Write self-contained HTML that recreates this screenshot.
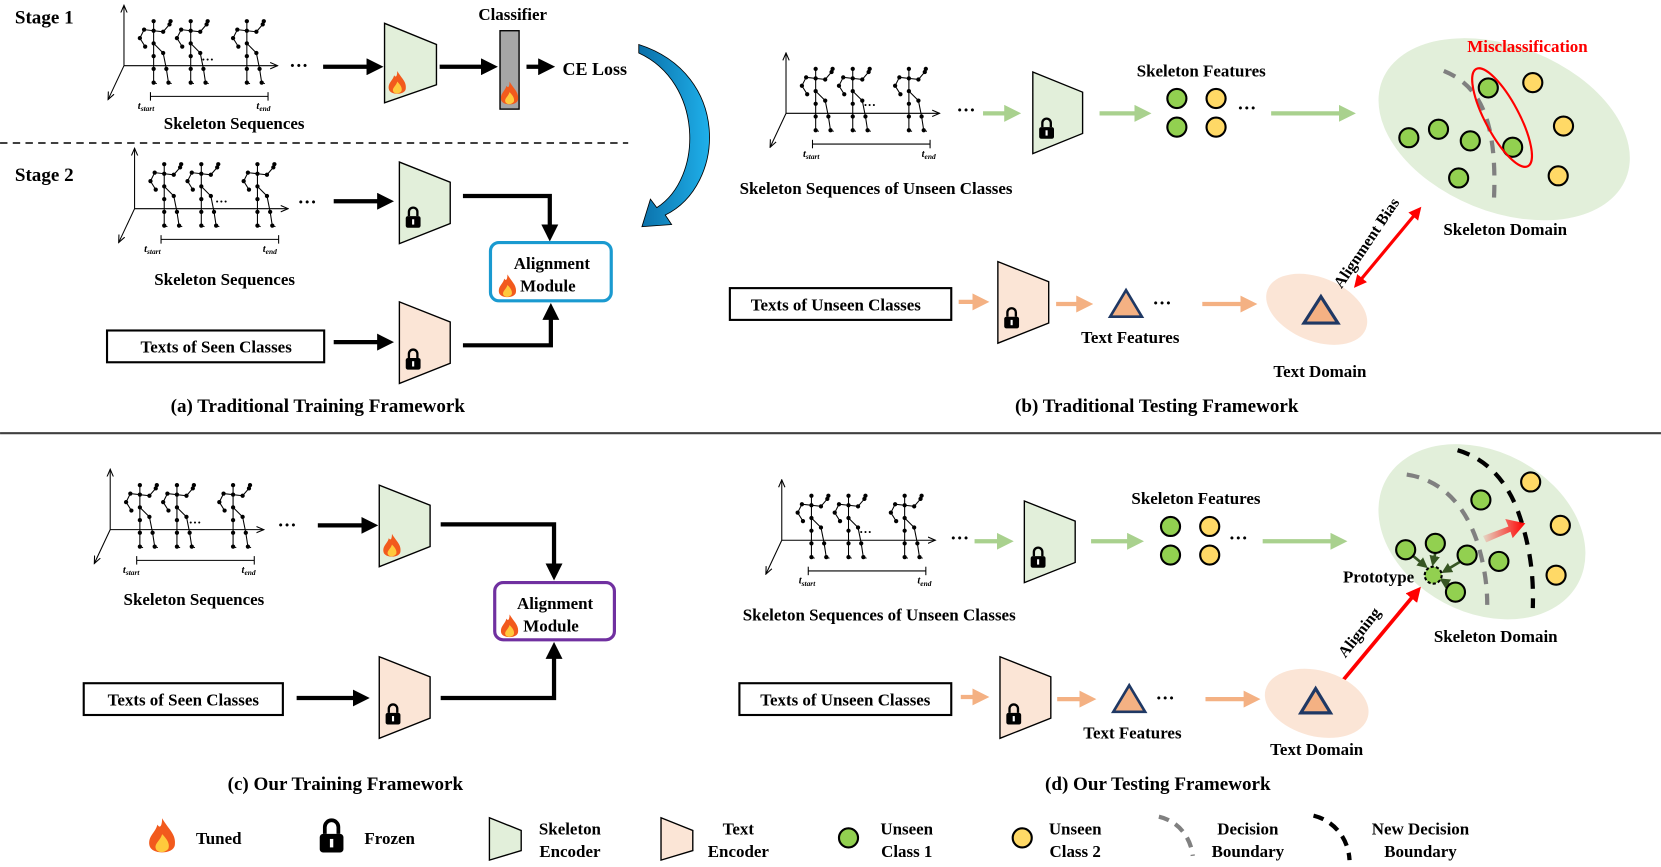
<!DOCTYPE html>
<html><head><meta charset="utf-8"><style>
html,body{margin:0;padding:0;background:#fff;}
svg{display:block;}
text{font-family:"Liberation Serif",serif;font-weight:bold;fill:#000;}
</style></head><body>
<svg width="1661" height="867" viewBox="0 0 1568 818.5" xmlns="http://www.w3.org/2000/svg">
<defs>
<marker id="ab" markerWidth="4" markerHeight="4" refX="2.5" refY="2" orient="auto"><path d="M0,0 L4,2 L0,4 Z" fill="#000"/></marker>
<marker id="ag" markerWidth="4" markerHeight="4" refX="2.5" refY="2" orient="auto"><path d="M0,0 L4,2 L0,4 Z" fill="#a9d18e"/></marker>
<marker id="ao" markerWidth="4" markerHeight="4" refX="2.5" refY="2" orient="auto"><path d="M0,0 L4,2 L0,4 Z" fill="#f4b183"/></marker>
<marker id="ar" markerWidth="4" markerHeight="4" refX="2.5" refY="2" orient="auto"><path d="M0,0 L4,2 L0,4 Z" fill="#ff0000"/></marker>
<marker id="ar2" markerWidth="4" markerHeight="4" refX="1.5" refY="2" orient="auto-start-reverse"><path d="M0,0 L4,2 L0,4 Z" fill="#ff0000"/></marker>
<marker id="adg" markerWidth="4" markerHeight="4" refX="2.5" refY="2" orient="auto"><path d="M0,0 L4,2 L0,4 Z" fill="#375623"/></marker>
<marker id="sa" markerWidth="8" markerHeight="8" refX="7" refY="4" orient="auto" markerUnits="userSpaceOnUse"><path d="M0,1 L7,4 L0,7" fill="none" stroke="#000" stroke-width="1"/></marker>
<linearGradient id="gr" x1="0" x2="1"><stop offset="0" stop-color="#ff0000" stop-opacity="0.1"/><stop offset="1" stop-color="#ff0000"/></linearGradient>
<linearGradient id="bl" x1="0" x2="1"><stop offset="0" stop-color="#0a6fa8"/><stop offset="1" stop-color="#1fb0ea"/></linearGradient>
<g id="fig" stroke="#000" stroke-width="1" fill="none">
<path d="M0,-9 L0,0 L-9,-1 L-13,7 L-8,15 M0,0 L9,1 L15,-6 L16,-9 M0,0 L0,12 L0,24 L0,36 L0,49 L3,50 M0,12 L9,21 L12,36 L14,49 L17,50"/>
<g fill="#000" stroke="none"><circle cx="0" cy="-9" r="2"/><circle cx="0" cy="0" r="2"/><circle cx="-9" cy="-1" r="2"/><circle cx="-13" cy="7" r="2"/><circle cx="-8" cy="15" r="2"/><circle cx="9" cy="1" r="2"/><circle cx="15" cy="-6" r="2"/><circle cx="16" cy="-9" r="2"/><circle cx="0" cy="12" r="2"/><circle cx="0" cy="24" r="2"/><circle cx="0" cy="36" r="2"/><circle cx="0" cy="49" r="2"/><circle cx="9" cy="21" r="2"/><circle cx="12" cy="36" r="2"/><circle cx="14" cy="49" r="2"/></g>
</g>
<g id="seq">
<line x1="0" y1="0" x2="0" y2="-57" stroke="#000" marker-end="url(#sa)"/>
<line x1="0" y1="0" x2="145" y2="0" stroke="#000" marker-end="url(#sa)"/>
<line x1="0" y1="0" x2="-15" y2="32" stroke="#000" marker-end="url(#sa)"/>
<use href="#fig" x="28" y="-33"/><use href="#fig" x="63" y="-33"/><use href="#fig" x="116" y="-33"/>
<line x1="25" y1="29" x2="136" y2="29" stroke="#000"/><line x1="25" y1="25" x2="25" y2="33" stroke="#000"/><line x1="136" y1="25" x2="136" y2="33" stroke="#000"/>
</g>
<g id="flame"><path d="M0,-13 C4,-6 9,-3 8,4 C7,10 -7,10 -8,4 C-9,-2 -4,-4 -3,-9 C-1,-6 0,-9 0,-13 Z" fill="#f25a1d"/><path d="M0,-3 C3,0 5,3 4,6 C2,9 -3,9 -4,6 C-5,3 -1,1 0,-3 Z" fill="#ffc93c"/></g>
<g id="lock"><path d="M-4,-3 L-4,-7 A4,4 0 0 1 4,-7 L4,-3" fill="none" stroke="#000" stroke-width="2.2"/><rect x="-7" y="-3" width="14" height="11" rx="2" fill="#000"/><rect x="-1" y="0" width="2" height="5" fill="#fff"/></g>
</defs>

<!-- Panel a -->
<text x="14" y="22" font-size="18">Stage 1</text>
<use href="#seq" x="117" y="62"/>
<text font-size="10" font-style="italic" font-weight="normal" x="130" y="103">t<tspan font-size="7" dy="2">start</tspan></text>
<text font-size="10" font-style="italic" font-weight="normal" x="242" y="103">t<tspan font-size="7" dy="2">end</tspan></text>
<text x="190" y="60" font-size="12" font-weight="normal">···</text>
<text x="273" y="68" font-size="18">···</text>
<line x1="305" y1="63" x2="356" y2="63" stroke="#000" stroke-width="4" marker-end="url(#ab)"/>
<path d="M363,22 L412,42 L412,80 L363,97 Z" fill="#e2efda" stroke="#000" stroke-width="1.3"/>
<use href="#flame" x="375" y="80"/>
<line x1="415" y1="63" x2="464" y2="63" stroke="#000" stroke-width="4" marker-end="url(#ab)"/>
<rect x="472" y="29" width="18" height="74" fill="#a6a6a6" stroke="#000" stroke-width="1.3"/>
<use href="#flame" x="481" y="90"/>
<text x="484" y="19" font-size="16" text-anchor="middle">Classifier</text>
<line x1="497" y1="63" x2="518" y2="63" stroke="#000" stroke-width="4" marker-end="url(#ab)"/>
<text x="531" y="71" font-size="17">CE Loss</text>
<text x="221" y="122" font-size="16" text-anchor="middle">Skeleton Sequences</text>
<line x1="0" y1="135" x2="593" y2="135" stroke="#000" stroke-width="1.5" stroke-dasharray="7,5"/>
<path d="M603,42 C690,70 685,175 628,203 L634,212 L606,214 L614,188 L620,196 C664,168 664,78 603,50 Z" fill="url(#bl)" stroke="#000" stroke-width="0.8"/>
<text x="14" y="171" font-size="18">Stage 2</text>
<use href="#seq" x="127" y="197"/>
<text font-size="10" font-style="italic" font-weight="normal" x="136" y="238">t<tspan font-size="7" dy="2">start</tspan></text>
<text font-size="10" font-style="italic" font-weight="normal" x="248" y="238">t<tspan font-size="7" dy="2">end</tspan></text>
<text x="203" y="194" font-size="12" font-weight="normal">···</text>
<text x="281" y="197" font-size="18">···</text>
<line x1="315" y1="190" x2="366" y2="190" stroke="#000" stroke-width="4" marker-end="url(#ab)"/>
<path d="M377,153 L425,172 L425,211 L377,230 Z" fill="#e2efda" stroke="#000" stroke-width="1.3"/>
<use href="#lock" x="390" y="207"/>
<path d="M437,185 L519,185 L519,222" fill="none" stroke="#000" stroke-width="4" marker-end="url(#ab)"/>
<rect x="463" y="229" width="114" height="55" rx="8" fill="#fff" stroke="#1a9ad0" stroke-width="3"/>
<text x="521" y="254" font-size="16" text-anchor="middle">Alignment</text>
<use href="#flame" x="479" y="272"/>
<text x="491" y="275" font-size="16">Module</text>
<text x="212" y="269" font-size="16" text-anchor="middle">Skeleton Sequences</text>
<rect x="101" y="312" width="205" height="30" fill="#fff" stroke="#000" stroke-width="2"/>
<text x="204" y="333" font-size="16" text-anchor="middle">Texts of Seen Classes</text>
<line x1="315" y1="323" x2="366" y2="323" stroke="#000" stroke-width="4" marker-end="url(#ab)"/>
<path d="M377,285 L425,304 L425,343 L377,362 Z" fill="#fbe5d6" stroke="#000" stroke-width="1.3"/>
<use href="#lock" x="390" y="341"/>
<path d="M437,326 L520,326 L520,292" fill="none" stroke="#000" stroke-width="4" marker-end="url(#ab)"/>
<text x="300" y="389" font-size="18" text-anchor="middle">(a) Traditional Training Framework</text>

<!-- Panel b -->
<use href="#seq" x="742" y="107"/>
<text font-size="10" font-style="italic" font-weight="normal" x="758" y="148">t<tspan font-size="7" dy="2">start</tspan></text>
<text font-size="10" font-style="italic" font-weight="normal" x="870" y="148">t<tspan font-size="7" dy="2">end</tspan></text>
<text x="815" y="103" font-size="12" font-weight="normal">···</text>
<text x="903" y="110" font-size="18">···</text>
<line x1="928" y1="107" x2="958" y2="107" stroke="#a9d18e" stroke-width="4" marker-end="url(#ag)"/>
<path d="M975,68 L1022,87 L1022,126 L975,145 Z" fill="#e2efda" stroke="#000" stroke-width="1.3"/>
<use href="#lock" x="988" y="123"/>
<line x1="1038" y1="107" x2="1081" y2="107" stroke="#a9d18e" stroke-width="4" marker-end="url(#ag)"/>
<text x="1134" y="72" font-size="16" text-anchor="middle">Skeleton Features</text>
<g stroke="#000" stroke-width="2"><circle cx="1111" cy="93" r="9" fill="#92d050"/><circle cx="1111" cy="120" r="9" fill="#92d050"/><circle cx="1148" cy="93" r="9" fill="#ffd966"/><circle cx="1148" cy="120" r="9" fill="#ffd966"/></g>
<text x="1168" y="108" font-size="18">···</text>
<line x1="1200" y1="107" x2="1274" y2="107" stroke="#a9d18e" stroke-width="4" marker-end="url(#ag)"/>
<ellipse cx="1420" cy="122" rx="124" ry="78" transform="rotate(22 1420 122)" fill="#e2efda"/>
<path d="M1363,67 C1395,80 1415,110 1410,195" fill="none" stroke="#808080" stroke-width="4" stroke-dasharray="12,9"/>
<g stroke="#000" stroke-width="2" fill="#92d050"><circle cx="1405" cy="83" r="9"/><circle cx="1330" cy="130" r="9"/><circle cx="1358" cy="122" r="9"/><circle cx="1388" cy="133" r="9"/><circle cx="1428" cy="139" r="9"/><circle cx="1377" cy="168" r="9"/></g>
<g stroke="#000" stroke-width="2" fill="#ffd966"><circle cx="1447" cy="78" r="9"/><circle cx="1476" cy="119" r="9"/><circle cx="1471" cy="166" r="9"/></g>
<ellipse cx="1418" cy="111" rx="16" ry="52" transform="rotate(-28 1418 111)" fill="none" stroke="#ff0000" stroke-width="2"/>
<text x="1442" y="49" font-size="16" text-anchor="middle" style="fill:#ff0000">Misclassification</text>
<text x="1421" y="222" font-size="16" text-anchor="middle">Skeleton Domain</text>
<ellipse cx="1243" cy="292" rx="50" ry="30" transform="rotate(22 1243 292)" fill="#fbe5d6"/>
<path d="M1247,280 L1263,305 L1231,305 Z" fill="#f4b183" stroke="#1f3864" stroke-width="3"/>
<line x1="1283" y1="266" x2="1337" y2="201" stroke="#ff0000" stroke-width="3" marker-start="url(#ar2)" marker-end="url(#ar2)"/>
<text x="1294" y="232" font-size="15" text-anchor="middle" transform="rotate(-56 1294 232)">Alignment Bias</text>
<text x="1246" y="356" font-size="16" text-anchor="middle">Text Domain</text>
<rect x="689" y="272" width="209" height="30" fill="#fff" stroke="#000" stroke-width="2"/>
<text x="789" y="293" font-size="16" text-anchor="middle">Texts of Unseen Classes</text>
<line x1="905" y1="285" x2="928" y2="285" stroke="#f4b183" stroke-width="4" marker-end="url(#ao)"/>
<path d="M942,247 L990,266 L990,305 L942,324 Z" fill="#fbe5d6" stroke="#000" stroke-width="1.3"/>
<use href="#lock" x="955" y="302"/>
<line x1="997" y1="287" x2="1026" y2="287" stroke="#f4b183" stroke-width="4" marker-end="url(#ao)"/>
<path d="M1063,274 L1078,299 L1048,299 Z" fill="#f4b183" stroke="#1f3864" stroke-width="2.5"/>
<text x="1088" y="292" font-size="18">···</text>
<text x="1067" y="324" font-size="16" text-anchor="middle">Text Features</text>
<line x1="1135" y1="287" x2="1181" y2="287" stroke="#f4b183" stroke-width="4" marker-end="url(#ao)"/>
<text x="827" y="183" font-size="16" text-anchor="middle">Skeleton Sequences of Unseen Classes</text>
<text x="1092" y="389" font-size="18" text-anchor="middle">(b) Traditional Testing Framework</text>

<line x1="0" y1="409" x2="1568" y2="409" stroke="#404040" stroke-width="2"/>

<!-- Panel c -->
<use href="#seq" x="104" y="500"/>
<text font-size="10" font-style="italic" font-weight="normal" x="116" y="541">t<tspan font-size="7" dy="2">start</tspan></text>
<text font-size="10" font-style="italic" font-weight="normal" x="228" y="541">t<tspan font-size="7" dy="2">end</tspan></text>
<text x="178" y="497" font-size="12" font-weight="normal">···</text>
<text x="262" y="502" font-size="18">···</text>
<line x1="300" y1="496" x2="351" y2="496" stroke="#000" stroke-width="4" marker-end="url(#ab)"/>
<path d="M358,458 L406,477 L406,516 L358,535 Z" fill="#e2efda" stroke="#000" stroke-width="1.3"/>
<use href="#flame" x="370" y="517"/>
<path d="M416,495 L523,495 L523,542" fill="none" stroke="#000" stroke-width="4" marker-end="url(#ab)"/>
<rect x="467" y="550" width="113" height="54" rx="8" fill="#fff" stroke="#7030a0" stroke-width="3"/>
<text x="524" y="575" font-size="16" text-anchor="middle">Alignment</text>
<use href="#flame" x="481" y="593"/>
<text x="494" y="596" font-size="16">Module</text>
<text x="183" y="571" font-size="16" text-anchor="middle">Skeleton Sequences</text>
<rect x="79" y="645" width="188" height="30" fill="#fff" stroke="#000" stroke-width="2"/>
<text x="173" y="666" font-size="16" text-anchor="middle">Texts of Seen Classes</text>
<line x1="280" y1="659" x2="343" y2="659" stroke="#000" stroke-width="4" marker-end="url(#ab)"/>
<path d="M358,620 L406,639 L406,678 L358,697 Z" fill="#fbe5d6" stroke="#000" stroke-width="1.3"/>
<use href="#lock" x="371" y="676"/>
<path d="M416,659 L523,659 L523,612" fill="none" stroke="#000" stroke-width="4" marker-end="url(#ab)"/>
<text x="326" y="746" font-size="18" text-anchor="middle">(c) Our Training Framework</text>

<!-- Panel d -->
<use href="#seq" x="738" y="510"/>
<text font-size="10" font-style="italic" font-weight="normal" x="754" y="551">t<tspan font-size="7" dy="2">start</tspan></text>
<text font-size="10" font-style="italic" font-weight="normal" x="866" y="551">t<tspan font-size="7" dy="2">end</tspan></text>
<text x="811" y="506" font-size="12" font-weight="normal">···</text>
<text x="897" y="514" font-size="18">···</text>
<line x1="920" y1="511" x2="951" y2="511" stroke="#a9d18e" stroke-width="4" marker-end="url(#ag)"/>
<path d="M967,473 L1015,492 L1015,531 L967,550 Z" fill="#e2efda" stroke="#000" stroke-width="1.3"/>
<use href="#lock" x="980" y="528"/>
<line x1="1030" y1="511" x2="1074" y2="511" stroke="#a9d18e" stroke-width="4" marker-end="url(#ag)"/>
<text x="1129" y="476" font-size="16" text-anchor="middle">Skeleton Features</text>
<g stroke="#000" stroke-width="2"><circle cx="1105" cy="497" r="9" fill="#92d050"/><circle cx="1105" cy="524" r="9" fill="#92d050"/><circle cx="1142" cy="497" r="9" fill="#ffd966"/><circle cx="1142" cy="524" r="9" fill="#ffd966"/></g>
<text x="1160" y="514" font-size="18">···</text>
<line x1="1192" y1="511" x2="1266" y2="511" stroke="#a9d18e" stroke-width="4" marker-end="url(#ag)"/>
<ellipse cx="1399" cy="502" rx="103" ry="76" transform="rotate(28 1399 502)" fill="#e2efda"/>
<path d="M1328,448 C1355,452 1380,470 1394,510 C1402,535 1404,555 1404,571" fill="none" stroke="#808080" stroke-width="4" stroke-dasharray="12,9"/>
<path d="M1376,425 C1400,432 1420,450 1432,480 C1445,515 1448,545 1447,574" fill="none" stroke="#000" stroke-width="4" stroke-dasharray="12,9"/>
<path d="M1400,506 L1424,497 L1421,490 L1440,494 L1428,508 L1426,502 L1403,512 Z" fill="url(#gr)"/>
<g stroke="#375623" stroke-width="2.5"><line x1="1333" y1="524" x2="1345" y2="534" marker-end="url(#adg)"/><line x1="1355" y1="522" x2="1353" y2="531" marker-end="url(#adg)"/><line x1="1379" y1="530" x2="1364" y2="539" marker-end="url(#adg)"/><line x1="1370" y1="553" x2="1362" y2="548" marker-end="url(#adg)"/></g>
<g stroke="#000" stroke-width="2" fill="#92d050"><circle cx="1398" cy="472" r="9"/><circle cx="1415" cy="530" r="9"/><circle cx="1327" cy="519" r="9"/><circle cx="1355" cy="513" r="9"/><circle cx="1385" cy="524" r="9"/><circle cx="1374" cy="559" r="9"/><circle cx="1353" cy="543" r="8" stroke-dasharray="3,2"/></g>
<g stroke="#000" stroke-width="2" fill="#ffd966"><circle cx="1445" cy="455" r="9"/><circle cx="1473" cy="496" r="9"/><circle cx="1469" cy="543" r="9"/></g>
<text x="1335" y="550" font-size="16" text-anchor="end">Prototype</text>
<line x1="1258" y1="654" x2="1338" y2="558" stroke="#ff0000" stroke-width="3.5" marker-end="url(#ar)"/>
<text x="1287" y="600" font-size="15" text-anchor="middle" transform="rotate(-52 1287 600)">Aligning</text>
<text x="1412" y="606" font-size="16" text-anchor="middle">Skeleton Domain</text>
<ellipse cx="1243" cy="664" rx="50" ry="31" transform="rotate(15 1243 664)" fill="#fbe5d6"/>
<path d="M1242,650 L1256,673 L1228,673 Z" fill="#f4b183" stroke="#1f3864" stroke-width="3"/>
<text x="1243" y="713" font-size="16" text-anchor="middle">Text Domain</text>
<rect x="698" y="645" width="200" height="30" fill="#fff" stroke="#000" stroke-width="2"/>
<text x="798" y="666" font-size="16" text-anchor="middle">Texts of Unseen Classes</text>
<line x1="907" y1="658" x2="928" y2="658" stroke="#f4b183" stroke-width="4" marker-end="url(#ao)"/>
<path d="M944,620 L992,639 L992,678 L944,697 Z" fill="#fbe5d6" stroke="#000" stroke-width="1.3"/>
<use href="#lock" x="957" y="676"/>
<line x1="998" y1="660" x2="1029" y2="660" stroke="#f4b183" stroke-width="4" marker-end="url(#ao)"/>
<path d="M1066,647 L1081,672 L1051,672 Z" fill="#f4b183" stroke="#1f3864" stroke-width="2.5"/>
<text x="1091" y="665" font-size="18">···</text>
<text x="1069" y="697" font-size="16" text-anchor="middle">Text Features</text>
<line x1="1138" y1="660" x2="1184" y2="660" stroke="#f4b183" stroke-width="4" marker-end="url(#ao)"/>
<text x="830" y="586" font-size="16" text-anchor="middle">Skeleton Sequences of Unseen Classes</text>
<text x="1093" y="746" font-size="18" text-anchor="middle">(d) Our Testing Framework</text>

<!-- Legend -->
<g transform="translate(153,792) scale(1.5)"><use href="#flame"/></g>
<text x="185" y="797" font-size="16">Tuned</text>
<g transform="translate(313,792) scale(1.6)"><use href="#lock"/></g>
<text x="344" y="797" font-size="16">Frozen</text>
<path d="M462,772 L492,784 L492,803 L462,812 Z" fill="#e2efda" stroke="#000" stroke-width="1.3"/>
<text x="538" y="788" font-size="16" text-anchor="middle">Skeleton</text>
<text x="538" y="809" font-size="16" text-anchor="middle">Encoder</text>
<path d="M624,772 L654,784 L654,803 L624,812 Z" fill="#fbe5d6" stroke="#000" stroke-width="1.3"/>
<text x="697" y="788" font-size="16" text-anchor="middle">Text</text>
<text x="697" y="809" font-size="16" text-anchor="middle">Encoder</text>
<circle cx="801" cy="791" r="9" fill="#92d050" stroke="#000" stroke-width="2"/>
<text x="856" y="788" font-size="16" text-anchor="middle">Unseen</text>
<text x="856" y="809" font-size="16" text-anchor="middle">Class 1</text>
<circle cx="965" cy="791" r="9" fill="#ffd966" stroke="#000" stroke-width="2"/>
<text x="1015" y="788" font-size="16" text-anchor="middle">Unseen</text>
<text x="1015" y="809" font-size="16" text-anchor="middle">Class 2</text>
<path d="M1094,771 C1112,775 1124,790 1126,808" fill="none" stroke="#808080" stroke-width="4" stroke-dasharray="10,7"/>
<text x="1178" y="788" font-size="16" text-anchor="middle">Decision</text>
<text x="1178" y="809" font-size="16" text-anchor="middle">Boundary</text>
<path d="M1240,770 C1260,775 1273,792 1274,812" fill="none" stroke="#000" stroke-width="4" stroke-dasharray="10,7"/>
<text x="1341" y="788" font-size="16" text-anchor="middle">New Decision</text>
<text x="1341" y="809" font-size="16" text-anchor="middle">Boundary</text>
</svg>
</body></html>
